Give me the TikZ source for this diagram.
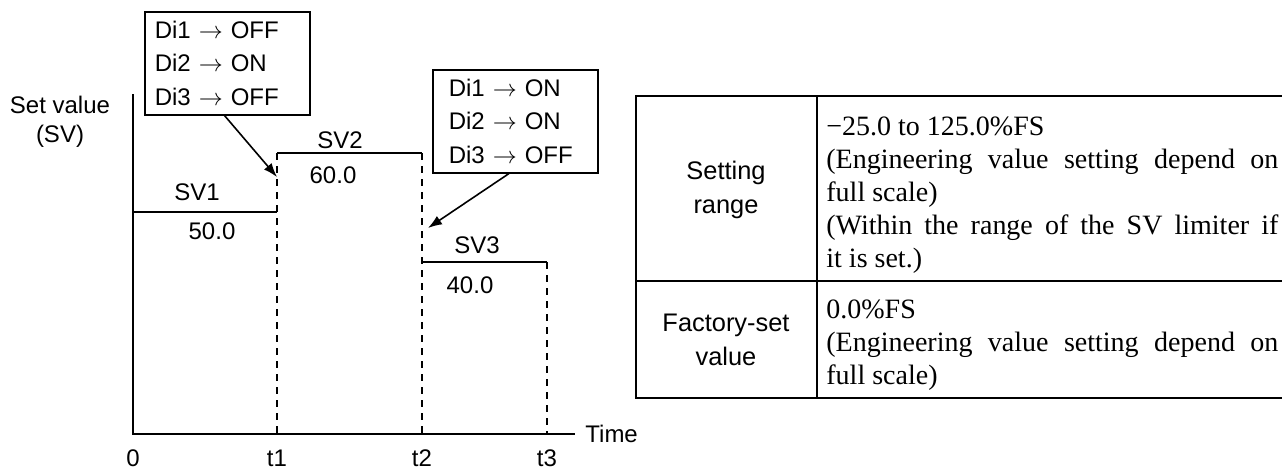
\documentclass[tikz,border=0pt]{standalone}
\usepackage{fontspec}
\setmainfont{Liberation Serif}
\setsansfont{Liberation Sans}
\usetikzlibrary{arrows.meta,positioning}
\definecolor{ink}{HTML}{000000}
\definecolor{paper}{HTML}{FFFFFF}
\tikzset{
  font=\sffamily,
  axis/.style={
    draw=ink,
    line width=0.8pt
  },
  level/.style={
    axis
  },
  guide/.style={
    draw=ink,
    line width=0.6pt,
    dash pattern=on 3.5pt off 3pt
  },
  pointer/.style={
    -{Latex[length=7pt,width=5pt]},
    draw=ink,
    line width=0.8pt
  },
  dibox/.style={
    rectangle,
    draw=ink,
    line width=0.8pt,
    fill=paper,
    anchor=north west,
    align=left,
    text width=72.5pt,
    minimum height=51.5pt,
    inner xsep=5pt,
    inner ysep=0pt,
    font=\sffamily\fontsize{12}{16.75}\selectfont
  },
  plotlabel/.style={
    inner sep=0pt,
    align=center,
    font=\sffamily\fontsize{12}{14.5}\selectfont
  },
  grid/.style={
    draw=ink,
    line width=1.1pt
  },
  headcell/.style={
    align=center,
    inner sep=0pt,
    font=\sffamily\fontsize{12.7}{17}\selectfont
  },
  bodycell/.style={
    anchor=north west,
    align=left,
    inner sep=0pt,
    font=\rmfamily\fontsize{14}{16.6}\selectfont
  }
}

\begin{document}
\begin{tikzpicture}[x=0.5pt,y=-0.5pt]
  \useasboundingbox (0,0) rectangle (1282,472);

  % time chart
  \coordinate (ytop) at (133,94);
  \coordinate (origin) at (133,434);
  \coordinate (xend) at (575,434);
  \coordinate (tone) at (277,434);
  \coordinate (ttwo) at (422,434);
  \coordinate (tthree) at (547,434);
  \coordinate (svonestart) at (133,212);
  \coordinate (svoneend) at (277,212);
  \coordinate (svtwostart) at (277,153);
  \coordinate (svtwoend) at (422,153);
  \coordinate (svthreestart) at (422,262);
  \coordinate (svthreeend) at (547,262);

  \draw[axis] (ytop) -- (origin) -- (xend);
  \draw[level] (svonestart) -- (svoneend);
  \draw[level] (svtwostart) -- (svtwoend);
  \draw[level] (svthreestart) -- (svthreeend);
  \draw[guide] (svtwostart) -- (tone);
  \draw[guide] (svtwoend) -- (ttwo);
  \draw[guide] (svthreeend) -- (tthree);

  \node[plotlabel] (ylabel) at (60,122) {Set value\\(SV)};
  \node[plotlabel, right=5pt of xend] (timelabel) {Time};
  \node[plotlabel] (tickzero) at (133,458) {0};
  \node[plotlabel] (tickone) at (277,458) {t1};
  \node[plotlabel] (ticktwo) at (422,458) {t2};
  \node[plotlabel] (tickthree) at (547,458) {t3};

  \node[plotlabel] (svone) at (197,192) {SV1};
  \node[plotlabel] (svoneval) at (212,231) {50.0};
  \node[plotlabel] (svtwo) at (340,140) {SV2};
  \node[plotlabel] (svtwoval) at (333,175) {60.0};
  \node[plotlabel] (svthree) at (477,245) {SV3};
  \node[plotlabel] (svthreeval) at (470,285) {40.0};

  % input states
  \node[dibox] (offbox) at (144,11) {Di1 $\rightarrow$ OFF\\Di2 $\rightarrow$ ON\\Di3 $\rightarrow$ OFF};
  \node[dibox, inner xsep=8pt, text width=66.5pt] (onbox) at (432,69) {Di1 $\rightarrow$ ON\\Di2 $\rightarrow$ ON\\Di3 $\rightarrow$ OFF};
  \coordinate (tipone) at (277,177);
  \coordinate (tiptwo) at (428,228);
  \draw[pointer] (offbox.-93) -- (tipone);
  \draw[pointer] (onbox.-97) -- (tiptwo);

  % setting table
  \draw[grid] (1282,96) -- (636,96) -- (636,398) -- (1282,398);
  \draw[grid] (636,281) -- (1282,281);
  \draw[grid] (817,96) -- (817,398);

  \node[headcell] (rangehead) at (726,190) {Setting\\range};
  \node[headcell] (factoryhead) at (726,340) {Factory-set\\value};
  \node[bodycell] (rangebody) at (826,116) {−25.0 to 125.0\%FS\\
    \makebox[226pt][s]{(Engineering value setting depend on}\\
    full scale)\\
    \makebox[226pt][s]{(Within the range of the SV limiter if}\\
    it is set.)};
  \node[bodycell] (factorybody) at (826,299) {0.0\%FS\\
    \makebox[226pt][s]{(Engineering value setting depend on}\\
    full scale)};
\end{tikzpicture}
\end{document}
